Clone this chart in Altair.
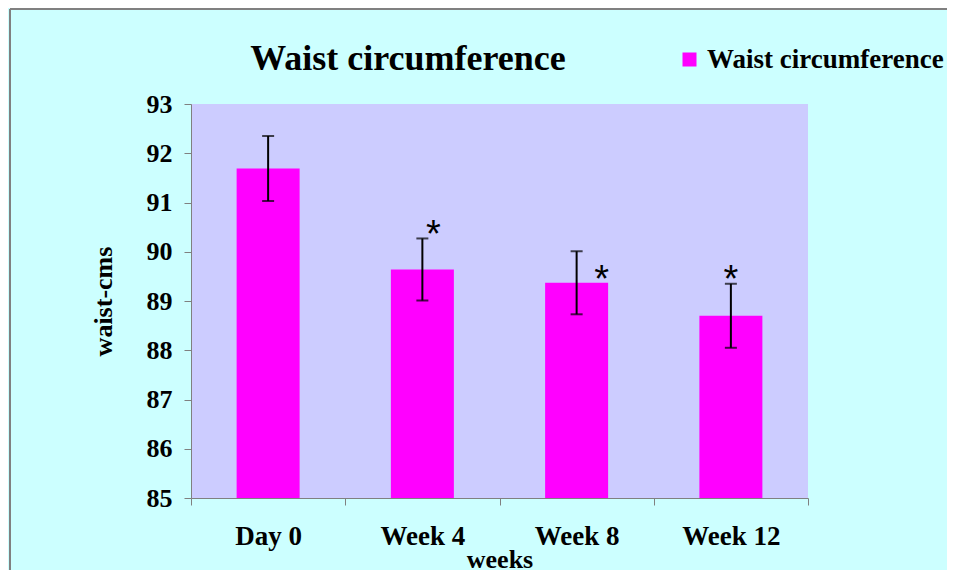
import altair as alt
import pandas as pd

categories = ["Day 0", "Week 4", "Week 8", "Week 12"]
means = [91.69, 89.64, 89.37, 88.70]
errors = [0.66, 0.63, 0.64, 0.65]
series_name = "Waist circumference"
chart_title = "Waist circumference"
star_categories = ["Week 4", "Week 8", "Week 12"]
star_levels = [90.48, 89.57, 89.57]
star_dx = [11, 25, 0]

df = pd.DataFrame({
    "cat": categories,
    "mean": means,
    "lo": [m - e for m, e in zip(means, errors)],
    "hi": [m + e for m, e in zip(means, errors)],
    "series": [series_name] * len(categories),
})

SERIF = "Liberation Serif"
x_enc = alt.X("cat:N", sort=categories, title="weeks",
              scale=alt.Scale(paddingInner=0, paddingOuter=0),
              axis=alt.Axis(labelAngle=0, tickBand="extent", labelFont=SERIF,
                            labelFontSize=27, labelFontWeight="bold", labelColor="black",
                            titleFont=SERIF, titleFontSize=26, titleFontWeight="bold",
                            titleColor="black", labelPadding=18, titlePadding=-3,
                            domainColor="#808080", tickColor="#808080", tickSize=7))
y_scale = alt.Scale(domain=[85, 93], zero=False, nice=False)
y_axis = alt.Axis(values=list(range(85, 94)), format="d", grid=False, labelFont=SERIF,
                  labelFontSize=26, labelFontWeight="bold", labelColor="black",
                  titleFont=SERIF, titleFontSize=26, titleFontWeight="bold",
                  titleColor="black", labelPadding=12, titlePadding=30,
                  domainColor="#808080", tickColor="#808080", tickSize=7)

base = alt.Chart(df)

bars = base.mark_bar(width=63, clip=True).encode(
    x=x_enc,
    y=alt.Y("mean:Q", scale=y_scale, axis=y_axis, title="waist-cms"),
    color=alt.Color("series:N", scale=alt.Scale(range=["#FF00FF"]),
                    legend=alt.Legend(title=None, orient="none", legendX=485, legendY=-58,
                                      symbolType="square", symbolSize=196,
                                      symbolStrokeWidth=0, labelFont=SERIF,
                                      labelFontSize=27, labelFontWeight="bold",
                                      labelColor="black", padding=0, labelOffset=4,
                                      labelLimit=400)),
)

rules = base.mark_rule(color="black", strokeWidth=2).encode(
    x=alt.X("cat:N", sort=categories), y="lo:Q", y2="hi:Q")
cap_lo = base.mark_tick(color="black", thickness=2, size=12, orient="horizontal").encode(
    x=alt.X("cat:N", sort=categories), y="lo:Q")
cap_hi = base.mark_tick(color="black", thickness=2, size=12, orient="horizontal").encode(
    x=alt.X("cat:N", sort=categories), y="hi:Q")

stars = []
for c, lv, d in zip(star_categories, star_levels, star_dx):
    sdf = pd.DataFrame({"cat": [c], "lv": [lv], "t": ["*"]})
    stars.append(alt.Chart(sdf).mark_text(font="Liberation Sans", fontSize=38, dx=d,
                                          dy=19, baseline="alphabetic",
                                          color="black").encode(
        x=alt.X("cat:N", sort=categories), y="lv:Q", text="t:N"))

title_mark = alt.Chart(pd.DataFrame({"t": [chart_title]})).mark_text(
    font=SERIF, fontSize=36, fontWeight="bold", color="black",
    align="center", baseline="alphabetic").encode(
    x=alt.value(217), y=alt.value(-34), text="t:N")

one = pd.DataFrame({"a": [0]})
frame_left = alt.Chart(one).mark_rule(color="#808080", strokeWidth=2).encode(
    x=alt.value(-181), y=alt.value(-95), y2=alt.value(520))
frame_top = alt.Chart(one).mark_rule(color="#808080", strokeWidth=2).encode(
    x=alt.value(-181), x2=alt.value(820), y=alt.value(-95))

chart = alt.layer(frame_left, frame_top, bars, rules, cap_lo, cap_hi, *stars,
                  title_mark).properties(
    width=617, height=394,
    background="#CCFFFF",
    padding={"left": 183, "top": 96, "right": 139, "bottom": 72},
    autosize=alt.AutoSizeParams(type="none"),
).configure_view(fill="#CCCCFF", stroke=None)

chart.save("out.html", embed_options={"renderer": "svg", "actions": False})
